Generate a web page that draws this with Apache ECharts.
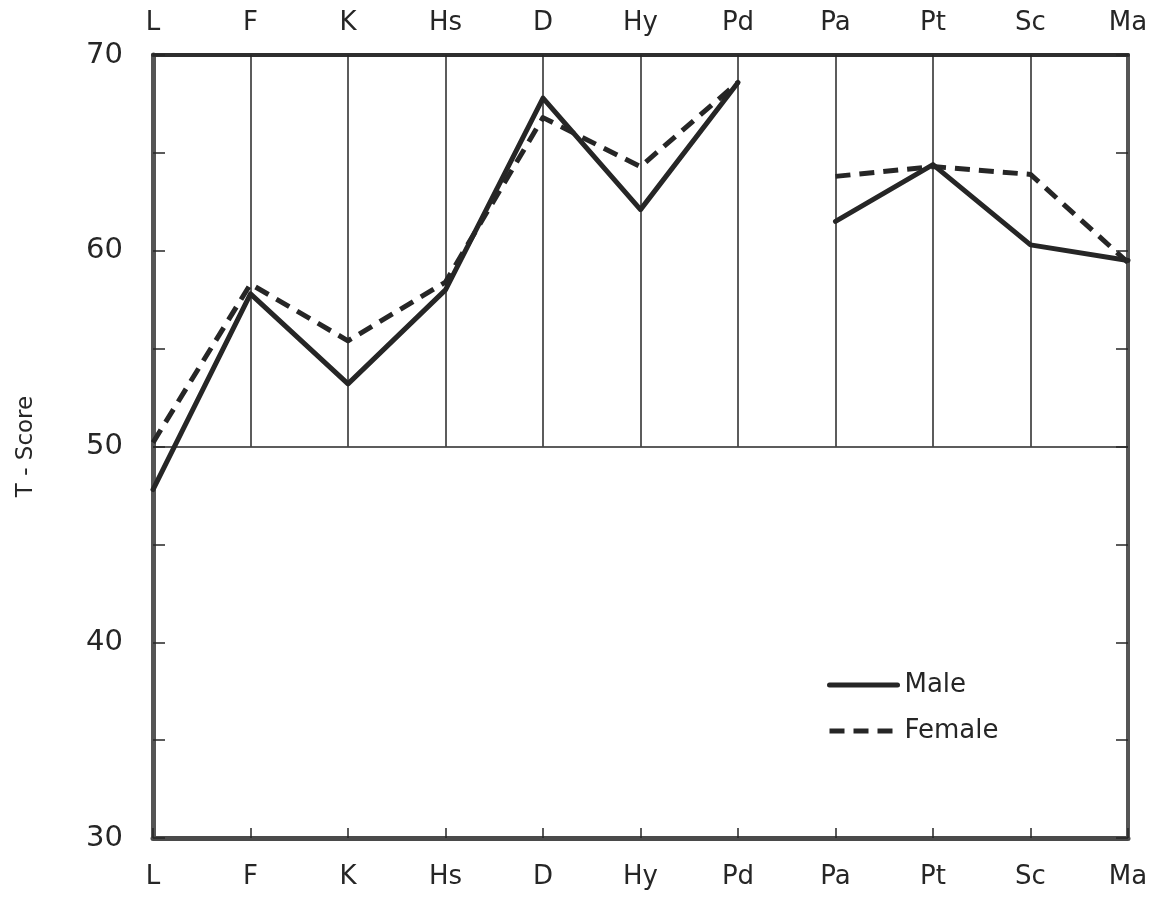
<!DOCTYPE html>
<html>
<head>
<meta charset="utf-8">
<script src="https://cdn.jsdelivr.net/npm/echarts@6/dist/echarts.min.js"></script>
<style>
html,body{margin:0;padding:0;background:#fff;}
#c{width:1159px;height:898px;}
</style>
</head>
<body>
<div id="c"></div>
<script>
const categories = ['L','F','K','Hs','D','Hy','Pd','Pa','Pt','Sc','Ma'];
const maleScores = [47.8, 57.8, 53.2, 58.0, 67.8, 62.1, 68.6, 61.5, 64.4, 60.3, 59.5];
const femaleScores = [50.2, 58.3, 55.4, 58.4, 66.8, 64.3, 68.6, 63.8, 64.3, 63.9, 59.4];
const gridCategories = ['F','K','Hs','D','Hy','Pd','Pa','Pt','Sc'];
const yTicks = [30, 40, 50, 60, 70];

const breakAfter = 6; // gap between Pd and Pa
const part = (arr, first) => arr.map((v, i) => (first ? (i <= breakAfter ? v : null) : (i > breakAfter ? v : null)));

const ink = '#262626';
const font = 'DejaVu Sans';

const chart = echarts.init(document.getElementById('c'));
const lineBase = {
  type: 'line', symbol: 'none', showSymbol: false, connectNulls: false,
  animation: false, z: 5
};
const maleStyle = { color: ink, width: 5, type: 'solid', cap: 'round', join: 'round' };
const femaleStyle = { color: ink, width: 5, type: [15, 9], cap: 'butt', join: 'round' };

chart.setOption({
  backgroundColor: '#ffffff',
  animation: false,
  textStyle: { fontFamily: font, color: ink },
  grid: { left: 153, right: 31, top: 55, bottom: 60, containLabel: false },
  legend: {
    orient: 'vertical', left: 822, top: 667, itemWidth: 68, itemHeight: 14, itemGap: 20,
    itemStyle: { opacity: 0 },
    lineStyle: { width: 5 },
    textStyle: { fontFamily: font, fontSize: 26, color: ink, padding: [0, 0, 0, 2] },
    data: ['Male', 'Female']
  },
  xAxis: [
    {
      type: 'category', data: categories, boundaryGap: false, position: 'bottom',
      axisLine: { lineStyle: { color: '#4a4a4a', width: 5 } },
      axisTick: { show: true, inside: true, length: 10, alignWithLabel: true, lineStyle: { color: ink, width: 1.5 } },
      axisLabel: { fontFamily: font, fontSize: 26, color: ink, margin: 26 },
      splitLine: { show: false }
    },
    {
      type: 'category', data: categories, boundaryGap: false, position: 'top',
      axisLine: { lineStyle: { color: '#2e2e2e', width: 4 } },
      axisTick: { show: false },
      axisLabel: { fontFamily: font, fontSize: 26, color: ink, margin: 19 },
      splitLine: { show: false }
    }
  ],
  yAxis: [
    {
      type: 'value', min: 30, max: 70, interval: 5, position: 'left',
      name: 'T - Score', nameLocation: 'middle', nameRotate: 90, nameGap: 115,
      nameTextStyle: { fontFamily: font, fontSize: 23, color: ink },
      axisLine: { show: true, lineStyle: { color: '#555', width: 5 } },
      axisTick: { show: true, inside: true, length: 12, lineStyle: { color: ink, width: 1.5 } },
      axisLabel: {
        fontFamily: font, fontSize: 29, color: ink, margin: 30,
        formatter: v => (yTicks.indexOf(v) >= 0 ? String(v) : '')
      },
      splitLine: { show: false }
    },
    {
      type: 'value', min: 30, max: 70, interval: 5, position: 'right',
      axisLine: { show: true, lineStyle: { color: '#555', width: 4 } },
      axisTick: { show: true, inside: true, length: 12, lineStyle: { color: ink, width: 1.5 } },
      axisLabel: { show: false },
      splitLine: { show: false }
    }
  ],
  series: [
    Object.assign({}, lineBase, {
      name: 'Male', data: part(maleScores, true), lineStyle: maleStyle, itemStyle: { color: ink },
      markLine: {
        silent: true, symbol: ['none', 'none'], animation: false,
        label: { show: false },
        lineStyle: { color: ink, width: 1.5, type: 'solid' },
        data: [{ yAxis: 50 }].concat(gridCategories.map(c => [{ coord: [c, 50] }, { coord: [c, 70] }]))
      },
      z: 2
    }),
    Object.assign({}, lineBase, { name: 'Male', data: part(maleScores, false), lineStyle: maleStyle, itemStyle: { color: ink } }),
    Object.assign({}, lineBase, { name: 'Female', data: part(femaleScores, true), lineStyle: femaleStyle, itemStyle: { color: ink } }),
    Object.assign({}, lineBase, { name: 'Female', data: part(femaleScores, false), lineStyle: femaleStyle, itemStyle: { color: ink } })
  ]
});
</script>
</body>
</html>
